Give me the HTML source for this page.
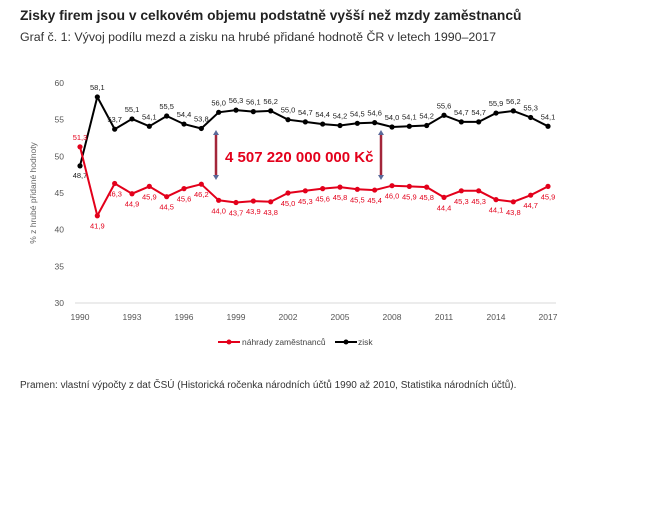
<!DOCTYPE html>
<html><head><meta charset="utf-8"><style>
body{margin:0;background:#fff;width:666px;height:500px;overflow:hidden;font-family:"Liberation Sans",sans-serif}
</style></head><body>
<svg id="s" width="666" height="500" xmlns="http://www.w3.org/2000/svg" font-family="Liberation Sans, sans-serif">
<text x="20" y="20" font-size="13.8" font-weight="bold" fill="#222">Zisky firem jsou v celkovém objemu podstatně vyšší než mzdy zaměstnanců</text>
<text x="20" y="41" font-size="12.4" fill="#333">Graf č. 1: Vývoj podílu mezd a zisku na hrubé přidané hodnotě ČR v letech 1990–2017</text>
<text x="20" y="388" font-size="10" fill="#333">Pramen: vlastní výpočty z dat ČSÚ (Historická ročenka národních účtů 1990 až 2010, Statistika národních účtů).</text>
<line x1="75" y1="303" x2="556" y2="303" stroke="#d9d9d9" stroke-width="1"/>
<text transform="translate(36,193) rotate(-90)" text-anchor="middle" font-size="8.5" fill="#666">% z hrubé přidané hodnoty</text>
<text x="225" y="162" font-size="15" font-weight="bold" fill="#e3001b">4 507 220 000 000 Kč</text>
<g id="g"></g>
<line x1="218" y1="342" x2="240" y2="342" stroke="#e3001b" stroke-width="2"/><circle cx="229" cy="342" r="2.5" fill="#e3001b"/>
<text x="242" y="345" font-size="8.5" fill="#444">náhrady zaměstnanců</text>
<line x1="335" y1="342" x2="357" y2="342" stroke="#000" stroke-width="2"/><circle cx="346" cy="342" r="2.5" fill="#000"/>
<text x="358" y="345" font-size="8.5" fill="#444">zisk</text>
</svg>
<script>
var z=[48.7,58.1,53.7,55.1,54.1,55.5,54.4,53.8,56.0,56.3,56.1,56.2,55.0,54.7,54.4,54.2,54.5,54.6,54.0,54.1,54.2,55.6,54.7,54.7,55.9,56.2,55.3,54.1];
var m=[51.3,41.9,46.3,44.9,45.9,44.5,45.6,46.2,44.0,43.7,43.9,43.8,45.0,45.3,45.6,45.8,45.5,45.4,46.0,45.9,45.8,44.4,45.3,45.3,44.1,43.8,44.7,45.9];
function X(i){return 80+i*(468/27)}function Y(v){return 303-(v-30)*220/30}
var h='';
for(var v=30;v<=60;v+=5)h+='<text x="64" y="'+(Y(v)+3)+'" text-anchor="end" font-size="8.5" fill="#555">'+v+'</text>';
for(var i=0;i<28;i+=3)h+='<text x="'+X(i)+'" y="320" text-anchor="middle" font-size="8.5" fill="#555">'+(1990+i)+'</text>';
function ser(d,c,dy){var p=d.map(function(v,i){return X(i).toFixed(1)+','+Y(v).toFixed(1)}).join(' ');
h+='<polyline points="'+p+'" fill="none" stroke="'+c+'" stroke-width="2"/>';
d.forEach(function(v,i){h+='<circle cx="'+X(i)+'" cy="'+Y(v)+'" r="2.6" fill="'+c+'"/>';
var o=dy;if(c=='#000'&&i==0)o=12;if(c!='#000'&&i==0)o=-7;
h+='<text x="'+X(i)+'" y="'+(Y(v)+o)+'" text-anchor="middle" font-size="7.5" fill="'+(c=='#000'?'#222':'#e3001b')+'">'+v.toFixed(1).replace('.',',')+'</text>';});}
ser(z,'#000',-7);ser(m,'#e3001b',13);
[216,381].forEach(function(x){h+='<line x1="'+x+'" y1="134" x2="'+x+'" y2="176" stroke="#a3263a" stroke-width="2.5"/>'+
'<path d="M'+(x-3)+',135 L'+x+',130 L'+(x+3)+',135Z M'+(x-3)+',175 L'+x+',180 L'+(x+3)+',175Z" fill="#5a6a9a"/>';});
document.getElementById('g').innerHTML=h;
</script>
</body></html>
